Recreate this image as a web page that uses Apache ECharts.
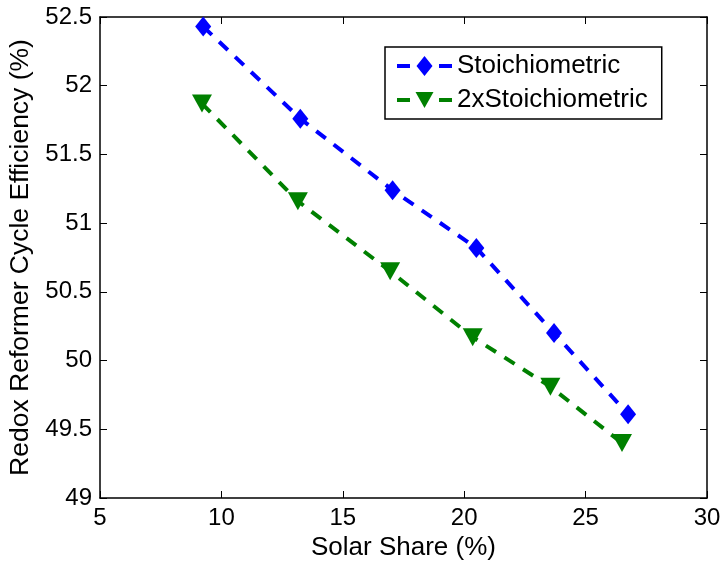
<!DOCTYPE html>
<html>
<head>
<meta charset="utf-8">
<script src="https://cdn.jsdelivr.net/npm/echarts@6/dist/echarts.min.js"></script>
<style>
  html, body { margin: 0; padding: 0; background: #fff; }
  #main { width: 723px; height: 561px; }
</style>
</head>
<body>
<div id="main"></div>
<script>
var stoichX = [9.25, 13.25, 17.05, 20.5, 23.7, 26.75];
var stoichY = [52.43, 51.76, 51.24, 50.82, 50.2, 49.61];
var doubleX = [9.2, 13.15, 16.95, 20.35, 23.55, 26.5];
var doubleY = [51.87, 51.16, 50.65, 50.17, 49.81, 49.4];

var font = 'Liberation Sans, Arial, Helvetica, sans-serif';

var pairs = function(xs, ys) {
  return xs.map(function(x, i) { return [x, ys[i]]; });
};

// legend glyphs: dash, marker, dash (like the matlab legend sample)
var dashes = 'M0 9L13 9L13 13L0 13Z M42 9L55 9L55 13L42 13Z ';
var diamondIcon = 'path://' + dashes + 'M27.5 1L35.5 11L27.5 21L19.5 11Z';
var triangleIcon = 'path://M0 0L0.01 0Z ' + dashes + 'M18.5 3L36.5 3L27.5 19Z M55 22L54.99 22Z';

var myChart = echarts.init(document.getElementById('main'));

var axisCommon = {
  axisLine: { show: true, onZero: false, lineStyle: { color: '#000', width: 1.5 } },
  axisTick: { show: true, inside: true, length: 7, lineStyle: { color: '#000', width: 1 } },
  splitLine: { show: false }
};

var option = {
  animation: false,
  backgroundColor: '#fff',
  textStyle: { fontFamily: font },
  grid: { left: 100, right: 16, top: 17, bottom: 63, outerBoundsMode: 'none', containLabel: false },
  legend: {
    left: 385,
    top: 47,
    orient: 'vertical',
    itemWidth: 55,
    itemHeight: 22,
    itemGap: 8,
    padding: [6, 14, 6, 12],
    borderColor: '#000',
    borderWidth: 1.5,
    textStyle: { fontSize: 26, color: '#000', fontFamily: font },
    data: [
      { name: 'Stoichiometric', icon: diamondIcon },
      { name: '2xStoichiometric', icon: triangleIcon }
    ]
  },
  xAxis: [
    Object.assign({
      type: 'value', min: 5, max: 30, interval: 5,
      name: 'Solar Share (%)', nameLocation: 'middle', nameGap: 37,
      nameTextStyle: { fontSize: 26, color: '#000', fontFamily: font },
      axisLabel: { fontSize: 24, color: '#000', margin: 8, fontFamily: font }
    }, axisCommon),
    Object.assign({
      type: 'value', min: 5, max: 30, interval: 5, position: 'top',
      axisLabel: { show: false }
    }, axisCommon)
  ],
  yAxis: [
    Object.assign({
      type: 'value', min: 49, max: 52.5, interval: 0.5,
      name: 'Redox Reformer Cycle Efficiency (%)', nameLocation: 'middle', nameGap: 64,
      nameTextStyle: { fontSize: 26.5, color: '#000', fontFamily: font },
      axisLabel: { fontSize: 24, color: '#000', margin: 8, fontFamily: font }
    }, axisCommon),
    Object.assign({
      type: 'value', min: 49, max: 52.5, interval: 0.5, position: 'right',
      axisLabel: { show: false }
    }, axisCommon)
  ],
  series: [
    {
      name: 'Stoichiometric',
      type: 'line',
      data: pairs(stoichX, stoichY),
      symbol: 'diamond',
      symbolSize: [16, 20],
      lineStyle: { color: '#0000ff', width: 4, type: [12, 10] },
      itemStyle: { color: '#0000ff' }
    },
    {
      name: '2xStoichiometric',
      type: 'line',
      data: pairs(doubleX, doubleY),
      symbol: 'triangle',
      symbolRotate: 180,
      symbolSize: [20, 18],
      lineStyle: { color: '#008000', width: 4, type: [12, 10] },
      itemStyle: { color: '#008000' }
    }
  ]
};

myChart.setOption(option);
</script>
</body>
</html>
